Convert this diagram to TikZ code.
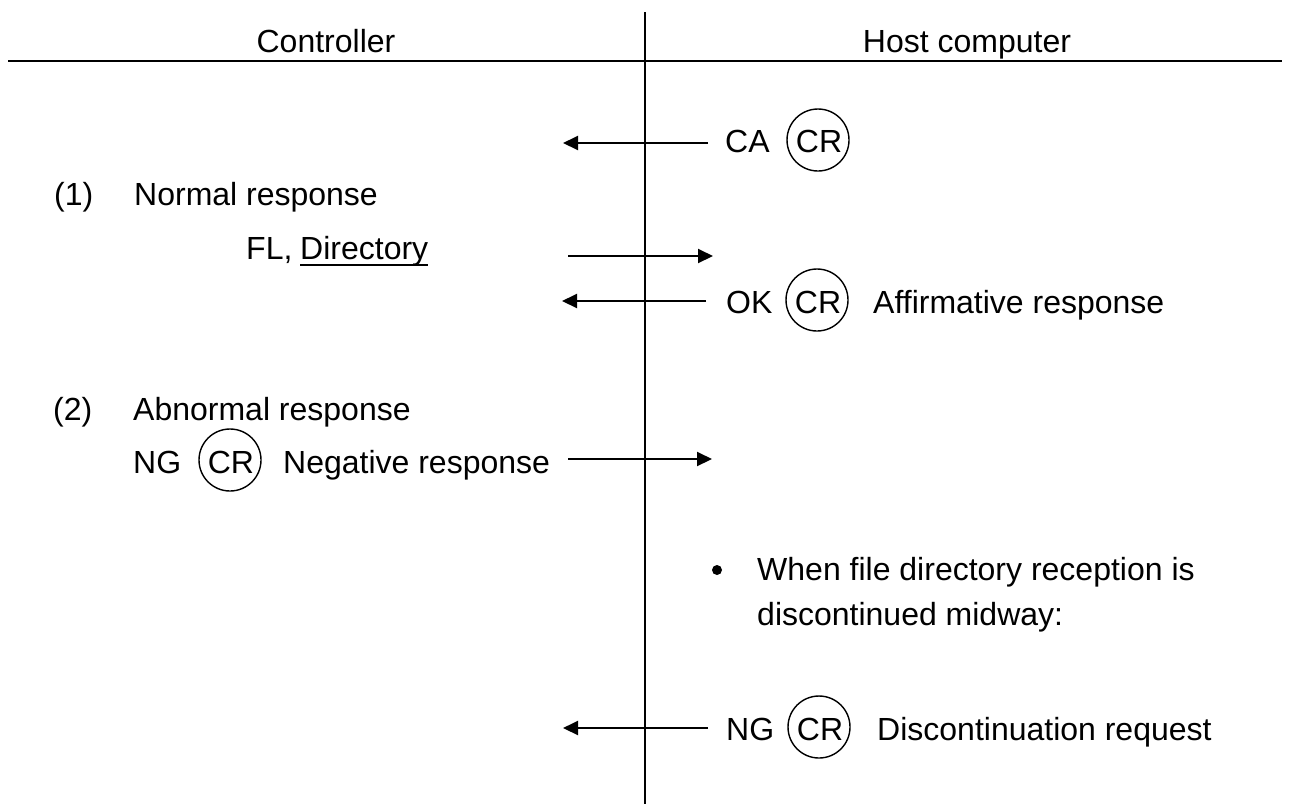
\documentclass[tikz,border=0pt]{standalone}
\usepackage{fontspec}
\setmainfont{Liberation Sans}
\usetikzlibrary{arrows.meta}
\begin{document}
\begin{tikzpicture}[x=1pt,y=-1pt,
  txt/.style={anchor=base west,inner sep=0pt,font=\fontsize{32}{38}\selectfont},
  ctr/.style={txt,anchor=base},
  rule/.style={line width=2pt},
  msg/.style={line width=2pt,-{Triangle[length=15pt,width=14pt]}},
  crring/.style={circle,draw,line width=1.4pt,minimum size=62pt,inner sep=0pt}]
\useasboundingbox (0,0) rectangle (1289,804);

% lifeline and header rule
\coordinate (top) at (645,12);
\coordinate (bot) at (645,804);
\draw[rule] (top) -- (bot);
\coordinate (hl) at (8,61);
\coordinate (hr) at (1282,61);
\draw[rule] (hl) -- (hr);
\node[ctr] (ctrl) at (326,52) {Controller};
\node[ctr] (host) at (967,52) {Host computer};

% CA request from the host
\node[txt] (ca) at (725,152) {CA};
\node[crring] (cr1) at (818,140) {};
\node[ctr] (cr1t) at (819,152) {CR};
\coordinate (a1s) at (708,143);
\coordinate (a1e) at (563,143);
\draw[msg] (a1s) -- (a1e);

% (1) normal response
\node[txt] (n1) at (54,205) {(1)};
\node[txt] (normal) at (134,205) {Normal response};
\node[txt] (fl) at (246,259) {FL,};
\node[txt] (dir) at (300,259) {Directory};
\draw[line width=1.8pt] ([yshift=-6pt]dir.base west) -- ([yshift=-6pt]dir.base east);
\coordinate (a2s) at (568,256);
\coordinate (a2e) at (713,256);
\draw[msg] (a2s) -- (a2e);

\node[txt] (ok) at (726,313) {OK};
\node[crring] (cr2) at (817,300) {};
\node[ctr] (cr2t) at (818,313) {CR};
\node[txt] (aff) at (873,313) {Affirmative response};
\coordinate (a3s) at (706,301);
\coordinate (a3e) at (562,301);
\draw[msg] (a3s) -- (a3e);

% (2) abnormal response
\node[txt] (n2) at (53,420) {(2)};
\node[txt] (abn) at (133,420) {Abnormal response};
\node[txt] (ng1) at (133,473) {NG};
\node[crring] (cr3) at (230,460) {};
\node[ctr] (cr3t) at (231,473) {CR};
\node[txt] (neg) at (283,473) {Negative response};
\coordinate (a4s) at (568,459);
\coordinate (a4e) at (712,459);
\draw[msg] (a4s) -- (a4e);

% discontinuation
\fill (717,570) circle (5pt) coordinate (bul);
\node[txt] (when1) at (757,580) {When file directory reception is};
\node[txt] (when2) at (757,625) {discontinued midway:};

\node[txt] (ng2) at (726,740) {NG};
\node[crring] (cr4) at (819,727) {};
\node[ctr] (cr4t) at (820,740) {CR};
\node[txt] (disc) at (877,740) {Discontinuation request};
\coordinate (a5s) at (708,728);
\coordinate (a5e) at (563,728);
\draw[msg] (a5s) -- (a5e);
\end{tikzpicture}
\end{document}
